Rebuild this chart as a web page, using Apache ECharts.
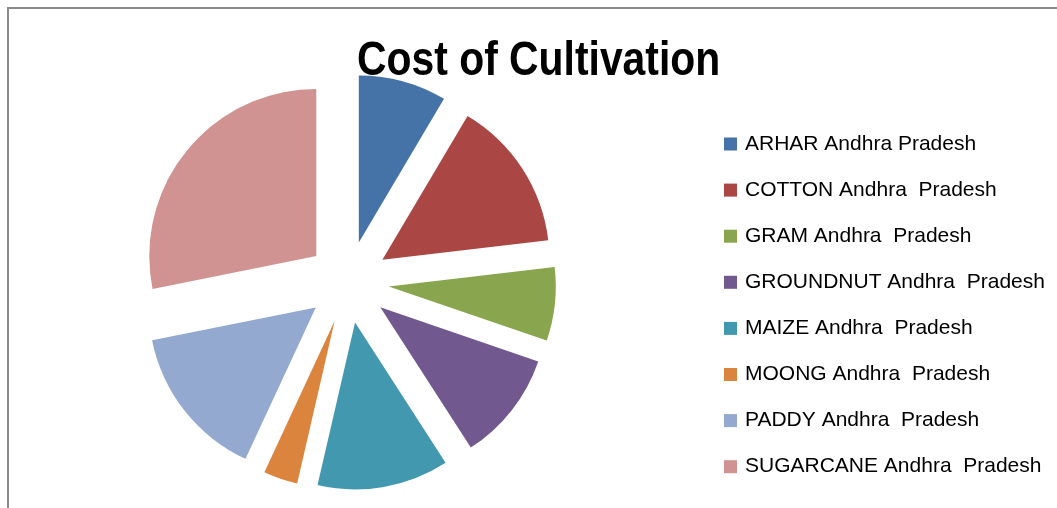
<!DOCTYPE html>
<html>
<head>
<meta charset="utf-8">
<script src="https://cdn.jsdelivr.net/npm/echarts@6/dist/echarts.min.js"></script>
<style>
  html, body { margin: 0; padding: 0; background: #fff; }
  #chart { width: 1057px; height: 508px; }
</style>
</head>
<body>
<div id="chart"></div>
<script>
// Share of cost of cultivation by crop (Andhra Pradesh), percent
const crops = [
  'ARHAR Andhra Pradesh',
  'COTTON Andhra  Pradesh',
  'GRAM Andhra  Pradesh',
  'GROUNDNUT Andhra  Pradesh',
  'MAIZE Andhra  Pradesh',
  'MOONG Andhra  Pradesh',
  'PADDY Andhra  Pradesh',
  'SUGARCANE Andhra  Pradesh'
];
const costShare = [8.5, 14.6, 7.1, 10.6, 12.7, 3.3, 14.9, 28.1];
const sliceColors = ['#4572A7', '#AA4643', '#89A54E', '#71588F', '#4198AF', '#DB843D', '#93A9CF', '#D19392'];
const chartTitle = 'Cost of Cultivation';

const chart = echarts.init(document.getElementById('chart'), null, { renderer: 'canvas' });

chart.setOption({
  animation: false,
  backgroundColor: '#ffffff',
  color: sliceColors,
  legend: {
    orient: 'vertical',
    left: 724,
    top: 133.5,
    padding: 0,
    icon: 'rect',
    itemWidth: 13,
    itemHeight: 13,
    itemGap: 25.1,
    selectedMode: false,
    textStyle: {
      fontFamily: '"Liberation Sans", Arial, sans-serif',
      fontSize: 21,
      color: '#000',
      padding: [0, 0, 0, 3]
    },
    data: crops
  },
  graphic: [
    {
      // outer chart frame
      type: 'rect',
      silent: true,
      shape: { x: 8, y: 8, width: 1200, height: 700 },
      style: { fill: 'none', stroke: '#8a8a8a', lineWidth: 2 }
    },
    {
      // condensed bold heading
      type: 'text',
      silent: true,
      x: 357,
      y: 37,
      scaleX: 0.834,
      scaleY: 1,
      style: {
        text: chartTitle,
        x: 0,
        y: 0,
        fontFamily: '"Liberation Sans", Arial, sans-serif',
        fontWeight: 'bold',
        fontSize: 49,
        fill: '#000',
        align: 'left',
        verticalAlign: 'top'
      }
    }
  ],
  series: [{
    type: 'pie',
    center: [348, 282],
    radius: 167,
    startAngle: 90,
    clockwise: true,
    selectedMode: 'multiple',
    selectedOffset: 41,
    avoidLabelOverlap: false,
    label: { show: false },
    labelLine: { show: false },
    emphasis: { disabled: true, scale: false },
    itemStyle: { borderWidth: 0 },
    data: crops.map((name, i) => ({ name: name, value: costShare[i], selected: true }))
  }]
});
</script>
</body>
</html>
